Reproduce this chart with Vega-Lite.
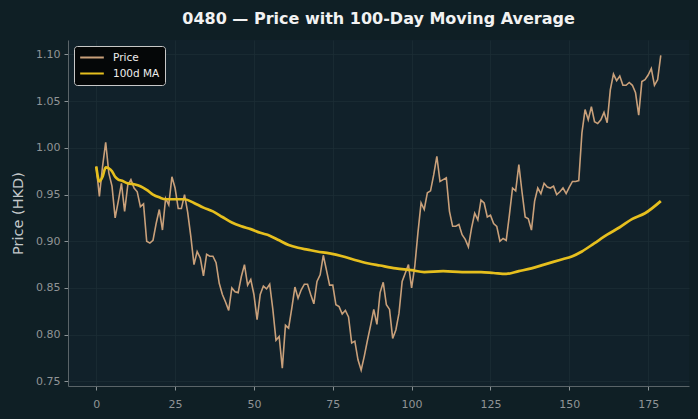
{
  "$schema": "https://vega.github.io/schema/vega-lite/v6.json",
  "autosize": {"type": "none"},
  "width": 621,
  "height": 346,
  "padding": {"left": 68, "top": 40, "right": 9, "bottom": 33},
  "background": "#0f1f25",
  "title": {
    "text": "0480 — Price with 100-Day Moving Average",
    "color": "#f2f2f2",
    "font": "DejaVu Sans",
    "fontSize": 16,
    "fontWeight": "bold",
    "anchor": "middle",
    "offset": 13
  },
  "datasets": {
    "price": [
      {"i":0,"v":0.980},{"i":1,"v":0.948},{"i":2,"v":0.980},{"i":3,"v":1.006},{"i":4,"v":0.973},
      {"i":5,"v":0.959},{"i":6,"v":0.925},{"i":7,"v":0.943},{"i":8,"v":0.962},{"i":9,"v":0.932},
      {"i":10,"v":0.960},{"i":11,"v":0.966},{"i":12,"v":0.957},{"i":13,"v":0.953},{"i":14,"v":0.937},
      {"i":15,"v":0.940},{"i":16,"v":0.900},{"i":17,"v":0.898},{"i":18,"v":0.901},{"i":19,"v":0.919},
      {"i":20,"v":0.934},{"i":21,"v":0.912},{"i":22,"v":0.946},{"i":23,"v":0.939},{"i":24,"v":0.969},
      {"i":25,"v":0.957},{"i":26,"v":0.935},{"i":27,"v":0.935},{"i":28,"v":0.950},{"i":29,"v":0.931},
      {"i":30,"v":0.905},{"i":31,"v":0.875},{"i":32,"v":0.889},{"i":33,"v":0.882},{"i":34,"v":0.863},
      {"i":35,"v":0.886},{"i":36,"v":0.884},{"i":37,"v":0.884},{"i":38,"v":0.877},{"i":39,"v":0.855},
      {"i":40,"v":0.843},{"i":41,"v":0.835},{"i":42,"v":0.826},{"i":43,"v":0.850},{"i":44,"v":0.846},
      {"i":45,"v":0.845},{"i":46,"v":0.862},{"i":47,"v":0.875},{"i":48,"v":0.853},{"i":49,"v":0.859},
      {"i":50,"v":0.843},{"i":51,"v":0.816},{"i":52,"v":0.843},{"i":53,"v":0.852},{"i":54,"v":0.849},
      {"i":55,"v":0.854},{"i":56,"v":0.827},{"i":57,"v":0.794},{"i":58,"v":0.798},{"i":59,"v":0.764},
      {"i":60,"v":0.810},{"i":61,"v":0.807},{"i":62,"v":0.828},{"i":63,"v":0.851},{"i":64,"v":0.839},
      {"i":65,"v":0.848},{"i":66,"v":0.854},{"i":67,"v":0.854},{"i":68,"v":0.843},{"i":69,"v":0.833},
      {"i":70,"v":0.857},{"i":71,"v":0.864},{"i":72,"v":0.885},{"i":73,"v":0.869},{"i":74,"v":0.853},
      {"i":75,"v":0.853},{"i":76,"v":0.832},{"i":77,"v":0.830},{"i":78,"v":0.822},{"i":79,"v":0.826},
      {"i":80,"v":0.819},{"i":81,"v":0.791},{"i":82,"v":0.793},{"i":83,"v":0.773},{"i":84,"v":0.762},
      {"i":85,"v":0.777},{"i":86,"v":0.794},{"i":87,"v":0.810},{"i":88,"v":0.827},{"i":89,"v":0.811},
      {"i":90,"v":0.845},{"i":91,"v":0.856},{"i":92,"v":0.832},{"i":93,"v":0.827},{"i":94,"v":0.796},
      {"i":95,"v":0.805},{"i":96,"v":0.823},{"i":97,"v":0.857},{"i":98,"v":0.866},{"i":99,"v":0.875},
      {"i":100,"v":0.850},{"i":101,"v":0.873},{"i":102,"v":0.909},{"i":103,"v":0.941},{"i":104,"v":0.934},
      {"i":105,"v":0.952},{"i":106,"v":0.954},{"i":107,"v":0.971},{"i":108,"v":0.991},{"i":109,"v":0.964},
      {"i":110,"v":0.966},{"i":111,"v":0.968},{"i":112,"v":0.932},{"i":113,"v":0.916},{"i":114,"v":0.916},
      {"i":115,"v":0.918},{"i":116,"v":0.907},{"i":117,"v":0.902},{"i":118,"v":0.894},{"i":119,"v":0.914},
      {"i":120,"v":0.930},{"i":121,"v":0.923},{"i":122,"v":0.944},{"i":123,"v":0.941},{"i":124,"v":0.926},
      {"i":125,"v":0.928},{"i":126,"v":0.919},{"i":127,"v":0.916},{"i":128,"v":0.900},{"i":129,"v":0.903},
      {"i":130,"v":0.901},{"i":131,"v":0.928},{"i":132,"v":0.957},{"i":133,"v":0.954},{"i":134,"v":0.982},
      {"i":135,"v":0.953},{"i":136,"v":0.926},{"i":137,"v":0.924},{"i":138,"v":0.912},{"i":139,"v":0.943},
      {"i":140,"v":0.957},{"i":141,"v":0.951},{"i":142,"v":0.962},{"i":143,"v":0.958},{"i":144,"v":0.957},
      {"i":145,"v":0.959},{"i":146,"v":0.950},{"i":147,"v":0.953},{"i":148,"v":0.957},{"i":149,"v":0.951},
      {"i":150,"v":0.958},{"i":151,"v":0.964},{"i":152,"v":0.964},{"i":153,"v":0.965},{"i":154,"v":1.016},
      {"i":155,"v":1.041},{"i":156,"v":1.030},{"i":157,"v":1.044},{"i":158,"v":1.028},{"i":159,"v":1.026},
      {"i":160,"v":1.030},{"i":161,"v":1.038},{"i":162,"v":1.027},{"i":163,"v":1.062},{"i":164,"v":1.079},
      {"i":165,"v":1.072},{"i":166,"v":1.077},{"i":167,"v":1.067},{"i":168,"v":1.067},{"i":169,"v":1.070},
      {"i":170,"v":1.067},{"i":171,"v":1.059},{"i":172,"v":1.035},{"i":173,"v":1.071},{"i":174,"v":1.073},
      {"i":175,"v":1.078},{"i":176,"v":1.085},{"i":177,"v":1.067},{"i":178,"v":1.073},{"i":179,"v":1.099}
    ],
    "ma": [
      {"i":0,"v":0.980},{"i":1,"v":0.964},{"i":2,"v":0.969},{"i":3,"v":0.979},{"i":4,"v":0.978},
      {"i":5,"v":0.975},{"i":6,"v":0.969},{"i":7,"v":0.966},{"i":8,"v":0.965},{"i":10,"v":0.962},
      {"i":12,"v":0.961},{"i":14,"v":0.959},{"i":16,"v":0.955},{"i":18,"v":0.950},{"i":20,"v":0.947},
      {"i":22,"v":0.945},{"i":25,"v":0.945},{"i":28,"v":0.945},{"i":31,"v":0.941},{"i":34,"v":0.936},
      {"i":37,"v":0.932},{"i":40,"v":0.926},{"i":43,"v":0.920},{"i":46,"v":0.916},{"i":49,"v":0.913},
      {"i":52,"v":0.909},{"i":55,"v":0.906},{"i":58,"v":0.901},{"i":61,"v":0.896},{"i":64,"v":0.893},
      {"i":67,"v":0.891},{"i":70,"v":0.889},{"i":74,"v":0.887},{"i":78,"v":0.884},{"i":82,"v":0.880},
      {"i":86,"v":0.8765},{"i":90,"v":0.874},{"i":95,"v":0.871},{"i":100,"v":0.869},{"i":104,"v":0.867},
      {"i":110,"v":0.868},{"i":116,"v":0.867},{"i":122,"v":0.867},{"i":126,"v":0.866},{"i":130,"v":0.865},
      {"i":134,"v":0.868},{"i":138,"v":0.871},{"i":142,"v":0.875},{"i":147,"v":0.880},{"i":151,"v":0.884},
      {"i":154,"v":0.889},{"i":158,"v":0.898},{"i":162,"v":0.907},{"i":166,"v":0.915},{"i":170,"v":0.924},
      {"i":174,"v":0.930},{"i":179,"v":0.943}
    ]
  },
  "encoding": {
    "x": {
      "field": "i",
      "type": "quantitative",
      "scale": {"domain": [-8.95, 187.95], "nice": false, "zero": false},
      "axis": {"title": null, "values": [0, 25, 50, 75, 100, 125, 150, 175], "labelPadding": 8}
    },
    "y": {
      "field": "v",
      "type": "quantitative",
      "scale": {"domain": [0.745, 1.1155], "nice": false, "zero": false},
      "axis": {
        "title": "Price (HKD)",
        "values": [0.75, 0.8, 0.85, 0.9, 0.95, 1.0, 1.05, 1.1],
        "format": ".2f",
        "titlePadding": 10,
        "titleFontSize": 14.5,
        "labelPadding": 4
      }
    }
  },
  "layer": [
    {
      "data": {"name": "price"},
      "mark": {"type": "line", "strokeWidth": 1.6, "clip": true},
      "encoding": {
        "color": {
          "datum": "Price",
          "scale": {"domain": ["Price", "100d MA"], "range": ["#c9a07a", "#e6bf1e"]}
        }
      }
    },
    {
      "data": {"name": "ma"},
      "mark": {"type": "line", "strokeWidth": 2.7, "clip": true, "interpolate": "monotone"},
      "encoding": {
        "color": {"datum": "100d MA"}
      }
    }
  ],
  "resolve": {"scale": {"color": "shared"}},
  "config": {
    "font": "DejaVu Sans",
    "view": {"stroke": null, "fill": "#11212a"},
    "axis": {
      "domainColor": "#5a6468",
      "tickColor": "#8a9295",
      "tickSize": 4,
      "labelColor": "#8f9496",
      "labelFontSize": 11,
      "labelFont": "DejaVu Sans",
      "gridColor": "#1c2d35",
      "gridWidth": 0.8,
      "titleColor": "#c3c8ca",
      "titleFontSize": 13,
      "titleFontWeight": "normal",
      "titleFont": "DejaVu Sans"
    },
    "legend": {
      "orient": "top-left",
      "offset": 6,
      "title": null,
      "fillColor": "#050708",
      "strokeColor": "#c8c8c8",
      "cornerRadius": 3,
      "padding": 5,
      "labelColor": "#eeeeee",
      "labelFontSize": 10.5,
      "labelFont": "DejaVu Sans",
      "symbolType": "stroke",
      "symbolStrokeWidth": 2.2,
      "symbolSize": 560,
      "clipHeight": 13,
      "rowPadding": 3,
      "labelOffset": 8
    }
  }
}
